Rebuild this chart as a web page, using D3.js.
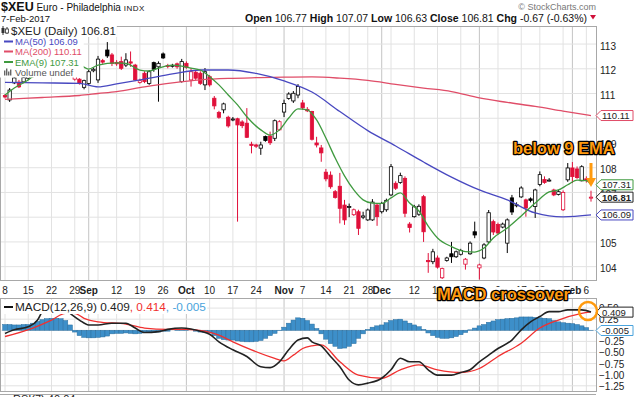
<!DOCTYPE html>
<html>
<head>
<meta charset="utf-8">
<title>$XEU Daily</title>
<script src="https://cdn.jsdelivr.net/npm/d3@7"></script>
<style>
  body { margin: 0; background: #fff; }
  svg { display: block; font-family: "Liberation Sans", Arial, sans-serif; }
</style>
</head>
<body>
<svg id="chart" width="640" height="397"></svg>
<script>
// ---- values ----
// one entry per trading day, 8-Aug-2016 .. 7-Feb-2017
const priorClose = 110.95;
const opens = [110.92,110.74,111.43,111.46,111.47,111.62,111.72,111.95,112.28,112.40,
  112.30,112.50,112.38,112.12,112.30,111.58,111.58,111.25,111.41,111.92,
  111.55,112.33,112.76,112.56,112.26,112.29,112.15,112.28,112.15,111.45,
  111.82,111.41,112.25,112.08,112.60,112.13,112.13,112.20,111.48,112.22,
  111.55,111.86,111.82,111.35,111.68,110.81,110.23,110.34,110.04,109.94,
  109.98,109.85,109.80,108.95,108.92,108.79,109.26,109.28,109.19,109.53,
  110.25,110.80,110.70,110.94,110.62,110.36,110.27,109.00,108.80,107.82,
  107.70,107.03,107.25,106.49,106.40,106.10,106.22,106.00,105.89,105.89,
  106.49,106.22,106.30,106.90,107.37,107.40,107.57,105.72,106.02,106.12,
  106.83,104.25,104.20,104.35,103.55,104.25,104.52,104.40,104.50,104.10,
  104.52,105.41,103.95,104.35,105.00,105.82,105.70,105.60,104.95,106.78,
  106.48,106.82,106.70,106.74,106.43,107.32,107.52,107.48,107.10,106.92,
  106.30,107.51,107.99,107.95,107.47,107.55,106.77];
const highs = [110.98,111.22,111.70,111.55,111.72,111.80,112.00,112.35,112.55,112.62,
  112.58,112.70,112.52,112.40,112.45,111.88,111.62,111.56,111.95,112.05,
  112.52,112.40,113.08,112.64,112.35,112.49,112.63,112.70,112.20,111.60,
  111.90,111.95,112.29,112.30,112.66,112.20,112.20,112.25,112.40,112.30,
  112.03,111.95,111.90,112.03,111.75,110.90,110.30,110.63,110.10,110.05,
  110.02,109.92,110.41,109.05,108.97,109.05,109.30,109.46,109.95,109.92,
  110.75,111.05,111.10,111.38,110.74,110.45,110.30,109.25,108.92,107.95,
  107.85,107.10,107.79,106.70,106.55,106.35,106.30,106.22,106.35,106.73,
  106.55,106.62,106.75,108.15,107.45,107.80,107.65,105.80,106.50,106.52,
  106.90,104.55,104.72,104.45,103.96,104.40,105.00,104.65,104.72,104.35,
  105.02,105.82,104.12,104.95,106.29,105.90,105.78,105.78,105.95,106.90,
  106.60,107.25,106.75,106.80,107.15,107.85,107.65,107.58,107.15,107.10,
  107.08,108.19,108.23,108.05,108.10,107.65,107.07];
const lows = [110.80,110.66,111.38,111.22,111.42,111.55,111.65,111.90,112.15,112.20,
  112.22,112.30,112.05,111.98,112.00,111.52,111.36,111.17,111.35,111.86,
  111.43,112.20,112.44,112.11,112.12,111.95,112.07,112.08,111.50,111.40,
  111.42,111.35,111.88,110.67,112.40,112.02,112.05,112.00,111.44,112.00,
  111.28,111.55,111.35,111.14,111.28,110.36,109.98,110.20,109.62,109.88,
  105.82,109.60,109.20,108.58,108.80,108.52,109.05,108.92,109.08,109.50,
  110.05,110.75,110.62,110.81,110.34,110.25,109.10,108.82,108.24,107.45,
  107.15,106.75,105.75,105.69,106.00,106.05,105.28,105.92,105.85,105.85,
  105.65,106.15,106.22,106.85,107.10,107.35,106.00,105.38,105.98,106.05,
  105.00,103.75,104.10,103.92,103.50,104.20,104.15,104.35,104.45,103.88,
  104.48,105.15,103.48,104.30,104.95,105.28,105.30,105.55,104.55,106.09,
  106.40,106.78,106.02,106.60,105.97,107.25,107.35,107.44,106.85,106.88,
  106.25,107.43,107.38,107.55,107.45,107.40,106.63];
const closes = [110.86,111.14,111.63,111.27,111.64,111.70,111.95,112.28,112.40,112.30,
  112.50,112.38,112.12,112.30,112.08,111.80,111.41,111.52,111.88,111.98,
  112.39,112.27,112.52,112.22,112.20,112.02,112.36,112.23,111.55,111.52,
  111.48,111.88,111.98,112.22,112.44,112.10,112.14,112.08,112.29,112.06,
  111.88,111.62,111.41,111.88,111.35,110.50,110.04,110.58,109.69,109.97,
  109.73,109.70,109.23,108.90,108.87,108.92,109.10,109.01,109.90,109.86,
  110.60,110.98,111.01,111.28,110.42,110.30,109.15,108.92,108.60,107.55,
  107.23,106.80,106.36,105.89,106.43,106.30,105.55,106.05,106.29,106.61,
  106.02,106.55,106.68,108.04,107.17,107.68,106.16,105.58,106.42,106.44,
  105.41,104.20,104.60,103.98,103.92,104.35,104.40,104.60,104.65,104.30,
  104.95,105.28,104.07,104.88,106.18,105.40,105.36,105.72,105.89,106.21,
  106.50,107.18,106.37,106.68,107.10,107.72,107.40,107.50,106.90,107.03,
  107.00,107.99,107.64,107.60,108.04,107.48,106.81];

// overlays, as [day, value]
const ema9 = [[0,110.94],[2,111.22],[5,111.55],[7,111.83],[11,112.20],[15,112.28],[18,111.99],
  [20,112.15],[24,112.24],[26,112.22],[29,111.95],[31,111.91],[33,112.03],[36,112.15],[38,112.11],
  [40,112.03],[42,111.95],[44,111.68],[46,111.35],[48,110.94],[50,110.54],[52,110.06],[55,109.53],
  [57,109.32],[59,109.53],[61,110.01],[63,110.38],[65,110.34],[67,109.93],[69,109.20],[71,108.39],
  [73,107.67],[75,107.10],[77,106.70],[79,106.57],[81,106.56],[83,106.78],[85,106.98],[87,106.57],
  [89,106.25],[91,105.64],[93,105.16],[96,104.81],[99,104.61],[101,104.59],[103,104.75],[105,105.16],
  [108,105.56],[111,106.05],[114,106.57],[117,107.02],[119,107.10],[121,107.31],[123,107.50],
  [125,107.48],[126,107.31]];
const maDays = [0,8,16,20,24,30,36,42,48,54,60,66,72,78,84,90,96,102,108,114,120,126];
const ma50 = [111.45,111.43,111.41,111.27,111.39,111.58,111.79,111.95,111.95,111.81,111.51,
  111.06,110.27,109.50,108.88,108.23,107.62,107.10,106.70,106.17,106.01,106.09];
const ma200 = [110.76,110.84,110.92,111.00,111.08,111.27,111.43,111.55,111.61,111.64,111.66,
  111.67,111.62,111.53,111.37,111.22,111.08,110.82,110.64,110.48,110.29,110.11];

// MACD(12,26,9)
const macdLine = [[0,-0.07],[2,0.01],[5,0.08],[7,0.23],[8,0.42],[11,0.62],[13,0.46],[14,0.38],
  [16,0.23],[18,0.12],[20,0.12],[23,0.16],[26,0.16],[28,0.05],[30,-0.05],[33,-0.03],[35,0.02],
  [38,0.05],[40,0.03],[42,-0.02],[44,-0.09],[46,-0.26],[49,-0.44],[52,-0.59],[55,-0.82],[57,-0.84],
  [59,-0.71],[61,-0.44],[63,-0.22],[65,-0.17],[66,-0.26],[68,-0.35],[70,-0.59],[72,-0.82],
  [74,-1.12],[76,-1.23],[78,-1.19],[81,-1.08],[83,-0.89],[85,-0.63],[87,-0.71],[89,-0.71],
  [91,-0.89],[93,-1.01],[96,-1.01],[98,-0.95],[100,-0.89],[102,-0.71],[104,-0.56],[106,-0.41],
  [109,-0.22],[111,0.01],[113,0.19],[115,0.31],[117,0.42],[119,0.42],[121,0.46],[124,0.46],[126,0.409]];
const signalLine = [[0,-0.14],[6,0.05],[10,0.23],[13,0.38],[15,0.38],[17,0.27],[20,0.19],[26,0.14],
  [30,0.05],[35,0.02],[39,0.02],[43,-0.02],[46,-0.11],[49,-0.26],[53,-0.44],[58,-0.63],[60,-0.69],
  [62,-0.56],[64,-0.41],[66,-0.35],[68,-0.33],[72,-0.71],[76,-1.01],[81,-1.08],[85,-0.89],
  [89,-0.78],[93,-0.89],[98,-0.95],[102,-0.86],[106,-0.59],[111,-0.29],[115,0.05],[119,0.23],
  [124,0.38],[126,0.414]];
const macdHist = [0.13,0.13,0.12,0.12,0.13,0.13,0.16,0.20,0.24,0.26,
  0.27,0.27,0.26,0.22,0.12,-0.04,-0.12,-0.16,-0.17,-0.17,
  -0.16,-0.15,-0.13,-0.08,-0.07,-0.07,-0.06,-0.07,-0.08,-0.07,
  -0.05,-0.04,-0.05,-0.04,-0.02,-0.02,0.00,0.01,0.01,0.01,
  0.00,-0.02,-0.04,-0.05,-0.06,-0.12,-0.18,-0.21,-0.22,-0.22,
  -0.24,-0.25,-0.26,-0.26,-0.25,-0.23,-0.18,-0.12,-0.07,-0.01,
  0.07,0.16,0.23,0.28,0.27,0.22,0.14,0.04,-0.08,-0.20,
  -0.30,-0.36,-0.41,-0.40,-0.36,-0.30,-0.18,-0.08,0.02,0.07,
  0.10,0.12,0.17,0.22,0.24,0.25,0.21,0.16,0.12,0.08,
  0.02,-0.06,-0.12,-0.16,-0.18,-0.18,-0.17,-0.14,-0.10,-0.05,
  0.01,0.05,0.10,0.13,0.18,0.21,0.24,0.25,0.26,0.27,
  0.28,0.30,0.30,0.30,0.29,0.28,0.27,0.26,0.22,0.19,
  0.17,0.16,0.15,0.13,0.10,0.06,-0.005];

// date axis
const tickDays = [0,5,10,15,18,24,29,34,39,44,49,54,60,64,69,74,78,81,88,93,98,102,106,111,115,122,125];
const tickLabels = ['8','15','22','29','Sep','12','19','26','Oct','10','17','24','Nov','7','14','21',
  '28','Dec','12','19','27','Jan','9','17','23','Feb','6'];
const monthDays = [18,39,60,81,102,122];
const extraWeekDays = [20,83,120];
const priceTicks = [104,105,106,107,108,109,110,111,112,113];
const macdTicks = [0.5,0.25,0,-0.25,-0.5,-0.75,-1.0,-1.25];

// ---- layout ----
const svg = d3.select('#chart');
const right = 596;
const pTop = 26, pBot = 280, mTop = 298, mBot = 391;
const RED = '#e0103a', BLACK = '#000';
const C50 = '#4848c0', C200 = '#e04d68', CEMA = '#3f9a3f';
const ORANGE = '#ff9a0e';

const x = d3.scalePoint().domain(d3.range(closes.length)).range([5, 591]);
const step = x.step();
const y = d3.scaleLinear().domain([103.46, 113.73]).range([pBot, pTop]);
const ym = d3.scaleLinear().domain([-1.367, 0.727]).range([mBot, mTop]);

const defs = svg.append('defs');
defs.append('clipPath').attr('id', 'clipP').append('rect')
  .attr('x', 0).attr('y', pTop).attr('width', right).attr('height', pBot - pTop);
defs.append('clipPath').attr('id', 'clipM').append('rect')
  .attr('x', 0).attr('y', mTop).attr('width', right).attr('height', mBot - mTop);

// grid
const gridDays = tickDays.concat(extraWeekDays);
const grid = svg.append('g');
[[pTop, pBot], [mTop, mBot]].forEach(([t, b]) => {
  grid.append('g').selectAll('line').data(gridDays).join('line')
    .attr('x1', d => x(d)).attr('x2', d => x(d)).attr('y1', t).attr('y2', b)
    .attr('stroke', d => monthDays.includes(d) ? '#c4c4c4' : '#e2e2e2');
});
grid.append('g').selectAll('line').data(priceTicks).join('line')
  .attr('x1', 0).attr('x2', right).attr('y1', d => y(d)).attr('y2', d => y(d))
  .attr('stroke', '#e2e2e2');
grid.append('g').selectAll('line').data(macdTicks).join('line')
  .attr('x1', 0).attr('x2', right).attr('y1', d => ym(d)).attr('y2', d => ym(d))
  .attr('stroke', '#e2e2e2');

// frames
[[pTop, pBot], [mTop, mBot]].forEach(([t, b]) => {
  svg.append('rect').attr('x', 0.5).attr('y', t + 0.5).attr('width', right).attr('height', b - t)
    .attr('fill', 'none').attr('stroke', '#a8a8a8');
});

// ---- price panel ----
const price = svg.append('g').attr('clip-path', 'url(#clipP)');
const days = closes.map((c, i) => {
  const pc = i ? closes[i - 1] : priorClose;
  return {i, o: opens[i], h: highs[i], l: lows[i], c, col: c < pc ? RED : BLACK};
});
const bw = step * 0.72;
const cg = price.append('g').selectAll('g').data(days).join('g');
cg.append('line')
  .attr('x1', d => x(d.i)).attr('x2', d => x(d.i))
  .attr('y1', d => y(d.h)).attr('y2', d => y(d.l))
  .attr('stroke', d => d.col).attr('stroke-width', 1);
cg.append('rect')
  .attr('x', d => x(d.i) - bw / 2).attr('width', bw)
  .attr('y', d => y(Math.max(d.o, d.c)))
  .attr('height', d => Math.max(1, Math.abs(y(d.o) - y(d.c))))
  .attr('fill', d => d.c < d.o ? d.col : '#fff')
  .attr('stroke', d => d.col).attr('stroke-width', 0.8);

const line = d3.line().x(d => x(d[0])).y(d => y(d[1])).curve(d3.curveMonotoneX);
price.append('path').attr('d', line(maDays.map((d, k) => [d, ma200[k]])))
  .attr('fill', 'none').attr('stroke', C200).attr('stroke-width', 1.3);
price.append('path').attr('d', line(maDays.map((d, k) => [d, ma50[k]])))
  .attr('fill', 'none').attr('stroke', C50).attr('stroke-width', 1.3);
price.append('path').attr('d', line(ema9))
  .attr('fill', 'none').attr('stroke', CEMA).attr('stroke-width', 1.3);

// legend, on a white block
const leg = svg.append('g');
const legBg = leg.append('rect').attr('fill', '#fff');
const head = leg.append('rect').attr('fill', '#fff');
function legendRow(yb, size, label, color, icon) {
  icon(leg, yb);
  return leg.append('text').attr('x', 15).attr('y', yb).style('font-size', size + 'px')
    .attr('fill', color).text(label);
}
const dash = c => (g, yb) => g.append('line').attr('x1', 4).attr('x2', 13)
  .attr('y1', yb - 3.5).attr('y2', yb - 3.5).attr('stroke', c).attr('stroke-width', 2);
const row1 = legendRow(35, 11.5, '$XEU (Daily) ' + closes[closes.length - 1].toFixed(2), '#222', (g, yb) => {
  g.append('line').attr('x1', 3).attr('x2', 3).attr('y1', yb - 9).attr('y2', yb).attr('stroke', '#333');
  g.append('rect').attr('x', 1.5).attr('y', yb - 7).attr('width', 3).attr('height', 5).attr('fill', '#333');
  g.append('line').attr('x1', 7).attr('x2', 7).attr('y1', yb - 8).attr('y2', yb - 1).attr('stroke', '#333');
  g.append('rect').attr('x', 5.5).attr('y', yb - 6).attr('width', 3).attr('height', 4)
    .attr('fill', '#fff').attr('stroke', '#333').attr('stroke-width', 0.8);
}).attr('x', 11);
const rows = [
  legendRow(45, 9.5, 'MA(50) 106.09', C50, dash(C50)),
  legendRow(55, 9.5, 'MA(200) 110.11', C200, dash(C200)),
  legendRow(65.5, 9.5, 'EMA(9) 107.31', CEMA, dash(CEMA)),
  legendRow(75.5, 9.5, 'Volume undef', '#555', (g, yb) => {
    [[4, 5], [6, 7], [8, 4], [10, 6]].forEach(([bx, bh]) => g.append('rect')
      .attr('x', bx).attr('y', yb - bh).attr('width', 1.4).attr('height', bh).attr('fill', '#666'));
  })
];
const b1 = row1.node().getBBox();
head.attr('x', 0).attr('y', b1.y).attr('width', b1.x + b1.width + 1).attr('height', b1.height);
const rb = rows.map(r => r.node().getBBox());
const blockTop = rb[0].y, blockBot = rb[3].y + rb[3].height;
legBg.attr('x', 0).attr('y', blockTop).attr('height', blockBot - blockTop)
  .attr('width', d3.max(rb, b => b.x + b.width) + 2);

// ---- MACD panel ----
const mg = svg.append('g').attr('clip-path', 'url(#clipM)');
mg.append('g').selectAll('rect').data(macdHist).join('rect')
  .attr('x', (d, i) => x(i) - step / 2).attr('width', step)
  .attr('y', d => ym(Math.max(0, d))).attr('height', d => Math.abs(ym(d) - ym(0)))
  .attr('fill', '#3d8fc9').attr('stroke', '#2a6e9e').attr('stroke-width', 0.5);
const mline = d3.line().x(d => x(d[0])).y(d => ym(d[1])).curve(d3.curveMonotoneX);
mg.append('path').attr('d', mline(signalLine)).attr('fill', 'none').attr('stroke', '#f03030').attr('stroke-width', 1.3);
mg.append('path').attr('d', mline(macdLine)).attr('fill', 'none').attr('stroke', '#222').attr('stroke-width', 1.6);

const mleg = svg.append('g');
const mbg = mleg.append('rect').attr('fill', '#fff');
mleg.append('line').attr('x1', 4).attr('x2', 13).attr('y1', 307).attr('y2', 307).attr('stroke', '#111').attr('stroke-width', 2);
const mt = mleg.append('text').attr('x', 15).attr('y', 311).style('font-size', '11.8px');
mt.append('tspan').text('MACD(12,26,9) 0.409').attr('fill', '#222');
mt.append('tspan').text(', 0.414').attr('fill', '#f03030');
mt.append('tspan').text(', -0.005').attr('fill', '#4aa3dc');
const mbb = mleg.node().getBBox();
mbg.attr('x', 1).attr('y', mbb.y).attr('width', mbb.width + 4).attr('height', mbb.height);

// stub of the next panel, cut by the picture edge
svg.append('line').attr('x1', 0).attr('x2', right).attr('y1', mBot + 3.5).attr('y2', mBot + 3.5).attr('stroke', '#a8a8a8');
svg.append('text').attr('x', 13).attr('y', 403).style('font-size', '11px').attr('fill', '#222').text('RSI(7) 40.04');

// ---- right axis ----
const tags = [[110.11, C200, false], [107.31, CEMA, false], [106.81, '#222', true], [106.09, C50, false]];
const ax = svg.append('g').style('font-size', '10px').attr('fill', '#222');
ax.selectAll('.pl').data(priceTicks.filter(p => !tags.some(t => Math.abs(y(t[0]) - y(p)) < 4)))
  .join('text').attr('x', 600).attr('y', d => y(d) + 5.5).text(d => d);
ax.selectAll('.ml').data(macdTicks.filter(v => v !== 0))
  .join('text').attr('x', 599).attr('y', d => ym(d) + 4).text(d => d3.format('.2f')(d));

function tag(yy, label, color, bold) {
  const t = svg.append('g').attr('transform', `translate(${right},${yy})`);
  t.append('path').attr('d', 'M0,0 L5,-5 L37,-5 L37,5 L5,5 Z')
    .attr('fill', '#fff').attr('stroke', color).attr('stroke-width', 1);
  t.append('text').attr('x', 6).attr('y', 3.5).text(label).attr('fill', '#222')
    .style('font-size', '9.5px').style('font-weight', bold ? 'bold' : 'normal');
}
tags.forEach(t => tag(y(t[0]), t[0].toFixed(2), t[1], t[2]));
tag(ym(-0.005), '-0.005', '#4aa3dc', false);
tag(ym(0.409), '0.409', '#222', false);

// ---- date axis ----
svg.append('g').selectAll('text').data(tickDays).join('text')
  .attr('x', d => x(d)).attr('y', 294).attr('text-anchor', 'middle')
  .style('font-size', '10px')
  .style('font-weight', d => monthDays.includes(d) ? 'bold' : 'normal')
  .attr('fill', '#222')
  .text((d, k) => tickLabels[k]);

// ---- header ----
const h1 = svg.append('text').attr('x', 1).attr('y', 11).attr('fill', '#111');
h1.append('tspan').text('$XEU').style('font-weight', 'bold').style('font-size', '12.5px');
h1.append('tspan').text(' Euro - Philadelphia ').style('font-size', '10px');
h1.append('tspan').text('INDX').style('font-size', '8px').style('letter-spacing', '0.5px');
svg.append('text').attr('x', 1).attr('y', 22).style('font-size', '9.5px').attr('fill', '#111').text('7-Feb-2017');
svg.append('text').attr('x', 596).attr('y', 9.5).attr('text-anchor', 'end')
  .style('font-size', '9px').attr('fill', '#777').text('\u00a9 StockCharts.com');
const h2 = svg.append('text').attr('x', 245).attr('y', 22).style('font-size', '10.5px').attr('fill', '#111');
[['Open', ' 106.77 '], ['High', ' 107.07 '], ['Low', ' 106.63 '], ['Close', ' 106.81 '], ['Chg', ' -0.67 (-0.63%)']]
  .forEach(([k, v]) => {
    h2.append('tspan').text(k).style('font-weight', 'bold');
    h2.append('tspan').text(v);
  });
svg.append('path').attr('d', 'M590,15 L596,15 L593,19.5 Z').attr('fill', '#d0103a');

// ---- annotations ----
function note(tx, ty, s, backTo) {
  const g = svg.append('g');
  const bg = g.append('rect').attr('fill', '#fff');
  const t = g.append('text').attr('x', tx).attr('y', ty).text(s)
    .style('font-size', '16.5px').style('font-weight', 'bold')
    .attr('fill', ORANGE).attr('stroke', '#000').attr('stroke-width', 2.6)
    .attr('stroke-linejoin', 'round').style('paint-order', 'stroke');
  if (backTo) {
    const b = t.node().getBBox();
    bg.attr('x', b.x).attr('y', b.y + 2).attr('width', b.width).attr('height', backTo - b.y - 2);
  }
}
note(513, 154, 'below 9 EMA');
note(437, 300, 'MACD crossover', mTop - 0.5);
svg.append('path').attr('d', 'M589.5,163 L592.5,163 L592.5,178 L596,178 L591,187 L586,178 L589.5,178 Z')
  .attr('fill', ORANGE);
svg.append('circle').attr('cx', 588).attr('cy', 311).attr('r', 9)
  .attr('fill', 'none').attr('stroke', ORANGE).attr('stroke-width', 2.5);
</script>
</body>
</html>
